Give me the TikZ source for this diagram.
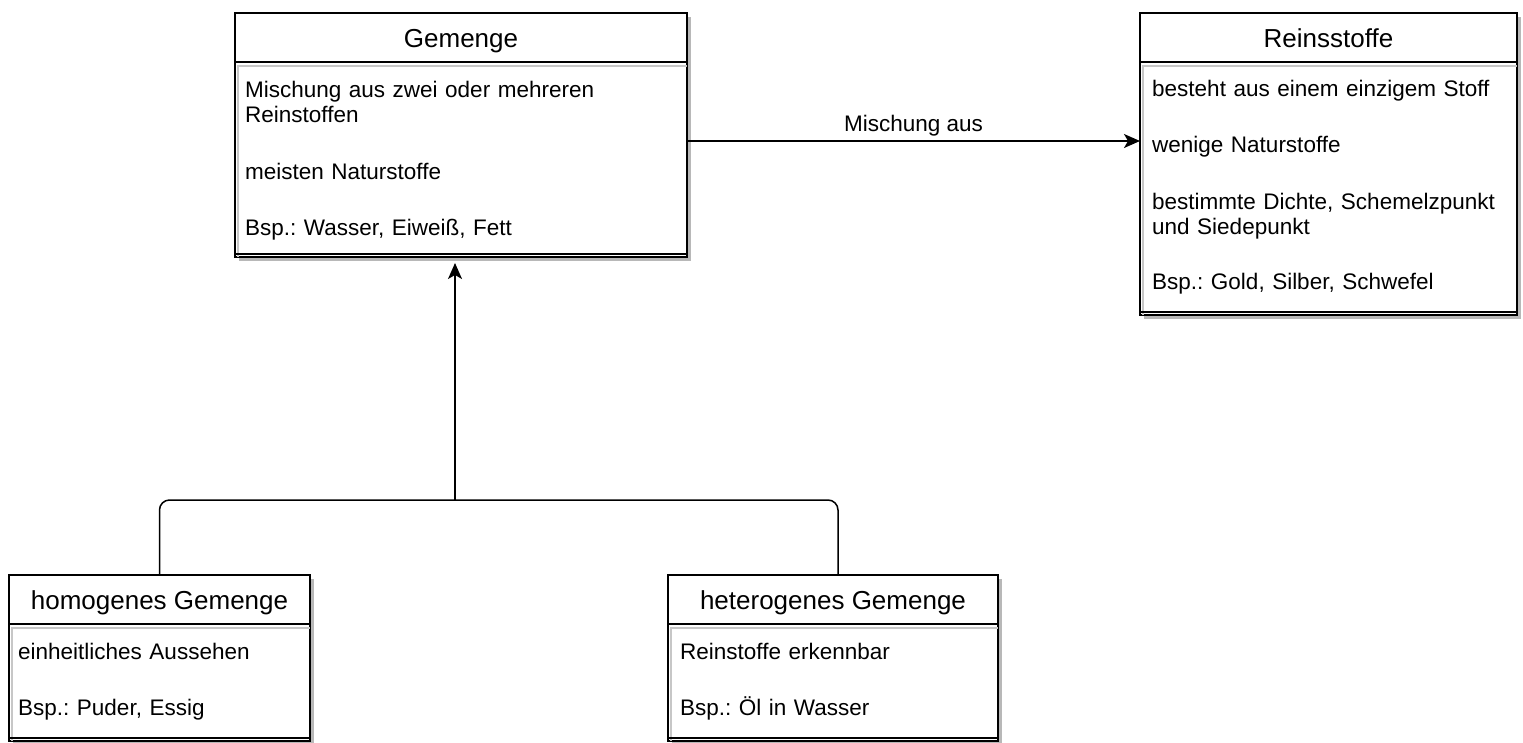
\documentclass[tikz,border=0pt]{standalone}
\usepackage{fontspec}
\setmainfont{Liberation Sans}
\usetikzlibrary{arrows.meta,positioning,shadows}

\newcommand{\titlefont}{\fontsize{26pt}{30pt}\selectfont}
\newcommand{\entryfont}{\fontsize{22.5pt}{25.5pt}\selectfont}
\frenchspacing

\begin{document}
\begin{tikzpicture}[
  x=1pt,
  y=-1pt,
  >={Stealth[length=16pt, width=14pt, inset=4pt]},
  shade/.style={drop shadow={shadow xshift=4pt, shadow yshift=-4pt, fill=black!28, opacity=1}},
  classhead/.style={draw, line width=1.5pt, fill=white, shade, outer sep=0pt, inner sep=0pt,
    minimum height=49pt, font=\titlefont, text height=24pt, text depth=4pt},
  classbody/.style={draw, line width=1.5pt, fill=white, shade, outer sep=0pt, inner sep=0pt},
  bodytext/.style={anchor=base west, text width=370pt, align=left, inner sep=0pt, font=\entryfont},
  innerline/.style={black!22, line width=1.5pt},
  conn/.style={line width=1.5pt},
]

\clip (0,0) rectangle (1523,742);

% Classes: header + body
\node[classhead, anchor=north west, minimum width=452pt] (gem) at (235,13) {Gemenge};
\node[classbody, below=0pt of gem, minimum width=452pt, minimum height=195pt] (gemB) {};

\node[classhead, anchor=north west, minimum width=377pt] (rein) at (1140,13) {Reinsstoffe};
\node[classbody, below=0pt of rein, minimum width=377pt, minimum height=253pt] (reinB) {};

\node[classhead, anchor=north west, minimum width=301pt] (hom) at (9,575) {homogenes Gemenge};
\node[classbody, below=0pt of hom, minimum width=301pt, minimum height=117pt] (homB) {};

\node[classhead, anchor=north west, minimum width=330pt] (het) at (668,575) {heterogenes Gemenge};
\node[classbody, below=0pt of het, minimum width=330pt, minimum height=117pt] (hetB) {};

% Inner shadow lines and double bottom line
\foreach \b in {gemB,reinB,homB,hetB} {
  \draw[innerline] ([xshift=3pt]\b.south west) |- ([yshift=-4pt]\b.north east);
  \draw[conn] ([yshift=3pt]\b.south west) -- ([yshift=3pt]\b.south east);
}

% Body texts
\node[bodytext] (gemT) at ([xshift=10pt, yshift=-35pt]gemB.north west)
  {Mischung aus zwei oder mehreren\\Reinstoffen\\[31pt]meisten Naturstoffe\\[31pt]Bsp.: Wasser, Eiweiß, Fett};
\node[bodytext] (reinT) at ([xshift=12pt, yshift=-34pt]reinB.north west)
  {besteht aus einem einzigem Stoff\\[31pt]wenige Naturstoffe\\[31pt]bestimmte Dichte, Schemelzpunkt\\und Siedepunkt\\[29pt]Bsp.: Gold, Silber, Schwefel};
\node[bodytext] (homT) at ([xshift=9pt, yshift=-35pt]homB.north west)
  {einheitliches Aussehen\\[31pt]Bsp.: Puder, Essig};
\node[bodytext] (hetT) at ([xshift=12pt, yshift=-35pt]hetB.north west)
  {Reinstoffe erkennbar\\[31pt]Bsp.: Öl in Wasser};

% Connectors
\coordinate (join) at (455,500);
\draw[conn, rounded corners=10pt] (hom.north) |- (join);
\draw[conn, rounded corners=10pt] ([xshift=5pt]het.north) |- (join);
\draw[conn, ->, shorten >=6pt] (join) -- (join |- gemB.south);

\coordinate (mix) at ([yshift=18.5pt]gemB.east);
\draw[conn, ->] (mix) -- (mix -| reinB.west)
  node[midway, above, inner sep=4pt, font=\entryfont] (mixlbl) {Mischung aus};

\end{tikzpicture}
\end{document}
